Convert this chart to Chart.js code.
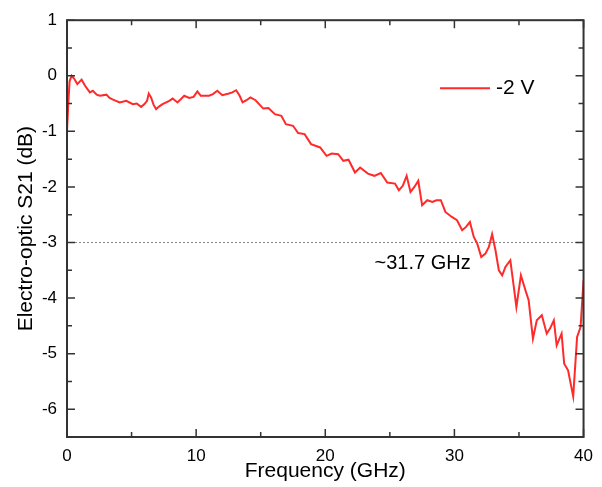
<!DOCTYPE html>
<html>
<head>
<meta charset="utf-8">
<script src="https://cdn.jsdelivr.net/npm/chart.js@4"></script>
<style>
  html, body { margin: 0; padding: 0; background: #fff; }
  #wrap { width: 602px; height: 487px; }
</style>
</head>
<body>
<div id="wrap"><canvas id="chart" width="602" height="487"></canvas></div>
<script>
// frequency (GHz)
const freq = [
  0, 0.1, 0.2, 0.36, 0.55, 0.8, 1.13, 1.4, 1.77, 2.0,
  2.3, 2.54, 3.05, 3.3, 3.56, 4.08, 4.59, 5.1, 5.4, 5.74,
  6.0, 6.2, 6.33, 6.51, 6.7, 6.9, 7.15, 7.4, 7.92, 8.18,
  8.56, 9.08, 9.46, 9.8, 10.1, 10.36, 11.0, 11.3, 11.64, 12.03,
  12.54, 12.8, 13.1, 13.35, 13.6, 13.9, 14.2, 14.6, 15.2, 15.6,
  16.1, 16.6, 16.95, 17.5, 17.9, 18.4, 18.9, 19.6, 20.1, 20.5,
  21.0, 21.4, 21.8, 22.3, 22.7, 23.3, 23.8, 24.3, 24.8, 25.4,
  25.7, 26.0, 26.3, 26.6, 26.9, 27.2, 27.5, 27.9, 28.3, 28.6,
  28.95, 29.3, 29.8, 30.2, 30.6, 30.9, 31.2, 31.5, 31.77, 32.08,
  32.4, 32.67, 32.92, 33.18, 33.44, 33.7, 33.95, 34.33, 34.6, 34.8,
  35.15, 35.5, 35.75, 36.08, 36.38, 36.77, 37.15, 37.4, 37.7, 37.92,
  38.3, 38.5, 38.8, 39.2, 39.5, 39.77, 40
];
// S21 at -2 V (dB)
const s21 = [
  -1.0, -0.5, -0.1, 0.0, -0.05, -0.15, -0.07, -0.18, -0.3, -0.27,
  -0.34, -0.36, -0.34, -0.4, -0.43, -0.48, -0.45, -0.51, -0.5, -0.56,
  -0.51, -0.45, -0.32, -0.39, -0.52, -0.6, -0.55, -0.51, -0.45, -0.41,
  -0.48, -0.36, -0.40, -0.38, -0.28, -0.36, -0.36, -0.33, -0.27, -0.35,
  -0.32, -0.3, -0.26, -0.35, -0.48, -0.44, -0.39, -0.44, -0.59, -0.58,
  -0.69, -0.72, -0.87, -0.9, -1.03, -1.05, -1.23, -1.29, -1.44, -1.40,
  -1.41, -1.53, -1.51, -1.74, -1.65, -1.76, -1.8, -1.75, -1.92, -1.94,
  -2.06, -1.98, -1.8, -2.09, -2.0, -1.89, -2.33, -2.24, -2.27, -2.24,
  -2.24, -2.45, -2.54, -2.6, -2.78, -2.72, -2.63, -2.9, -3.02, -3.26,
  -3.2, -3.08, -2.85, -3.14, -3.5, -3.59, -3.44, -3.32, -3.8, -4.16,
  -3.59, -3.86, -4.04, -4.73, -4.4, -4.31, -4.64, -4.55, -4.4, -4.85,
  -4.64, -5.18, -5.3, -5.77, -4.7, -4.52, -3.68
];
const seriesLabel = '-2 V';
const refLevel = -3;
const refFreqs = [0, 40];
const bandwidthNote = '~31.7 GHz';
const notePos = { x: 27.54, y: -3.37 };

const FONT = '"Liberation Sans", Arial, sans-serif';
const RED = '#ff2a2a';

const isWhole = v => Math.abs(v - Math.round(v)) < 1e-6;

// frame, inward ticks on all four sides, legend and the 3 dB note
const decorations = {
  id: 'decorations',
  afterDraw(chart) {
    const ctx = chart.ctx;
    const a = chart.chartArea;
    const xs = chart.scales.x, ys = chart.scales.y;
    ctx.save();
    ctx.strokeStyle = '#333';
    ctx.lineWidth = 1.5;
    ctx.beginPath();
    xs.ticks.forEach(t => {
      const px = xs.getPixelForValue(t.value);
      const len = (t.value % 10 === 0) ? 8 : 5;
      ctx.moveTo(px, a.bottom); ctx.lineTo(px, a.bottom - len);
      ctx.moveTo(px, a.top); ctx.lineTo(px, a.top + len);
    });
    ys.ticks.forEach(t => {
      const py = ys.getPixelForValue(t.value);
      const len = isWhole(t.value) ? 8 : 5;
      ctx.moveTo(a.left, py); ctx.lineTo(a.left + len, py);
      ctx.moveTo(a.right, py); ctx.lineTo(a.right - len, py);
    });
    ctx.stroke();
    ctx.lineWidth = 2;
    ctx.strokeRect(a.left, a.top, a.right - a.left, a.bottom - a.top);

    // legend
    const ly = a.top + 68;
    ctx.strokeStyle = RED;
    ctx.lineWidth = 2;
    ctx.beginPath();
    ctx.moveTo(a.left + 373, ly); ctx.lineTo(a.left + 423, ly);
    ctx.stroke();
    ctx.fillStyle = '#000';
    ctx.font = '21px ' + FONT;
    ctx.textAlign = 'left';
    ctx.textBaseline = 'middle';
    ctx.fillText(seriesLabel, a.left + 429, ly);

    // bandwidth note
    ctx.font = '20px ' + FONT;
    ctx.textAlign = 'center';
    ctx.fillText(bandwidthNote, xs.getPixelForValue(notePos.x), ys.getPixelForValue(notePos.y));
    ctx.restore();
  }
};

new Chart(document.getElementById('chart').getContext('2d'), {
  type: 'line',
  data: {
    datasets: [{
      label: seriesLabel,
      data: freq.map((f, i) => ({ x: f, y: s21[i] })),
      borderColor: RED,
      borderWidth: 2,
      pointRadius: 0,
      tension: 0,
      order: 1
    }, {
      label: 'ref',
      data: refFreqs.map(f => ({ x: f, y: refLevel })),
      borderColor: '#888',
      borderWidth: 1,
      borderDash: [2, 2],
      pointRadius: 0,
      order: 2
    }]
  },
  options: {
    responsive: false,
    animation: false,
    layout: { padding: { top: 19, right: 15, left: 0, bottom: 0 } },
    plugins: {
      legend: { display: false },
      tooltip: { enabled: false }
    },
    scales: {
      x: {
        type: 'linear',
        min: 0,
        max: 40,
        grid: { display: false, drawTicks: false },
        border: { display: false },
        afterFit: s => { s.height = 50; },
        ticks: {
          stepSize: 5,
          autoSkip: false,
          maxRotation: 0,
          padding: 9,
          color: '#000',
          font: { family: FONT, size: 17 },
          callback: v => (v % 10 === 0 ? String(v) : '')
        },
        title: {
          display: true,
          text: 'Frequency (GHz)',
          color: '#000',
          font: { family: FONT, size: 21 },
          padding: { top: 0, bottom: 3 }
        }
      },
      y: {
        min: -6.5,
        max: 1,
        grid: { display: false, drawTicks: false },
        border: { display: false },
        afterFit: s => { s.width = 67; },
        ticks: {
          stepSize: 0.5,
          autoSkip: false,
          padding: 10,
          color: '#000',
          font: { family: FONT, size: 17 },
          callback: v => (isWhole(v) ? String(Math.round(v)) : '')
        },
        title: {
          display: true,
          text: 'Electro-optic S21 (dB)',
          color: '#000',
          font: { family: FONT, size: 21 },
          padding: { top: 14, bottom: 0 }
        }
      }
    }
  },
  plugins: [decorations]
});
</script>
</body>
</html>
